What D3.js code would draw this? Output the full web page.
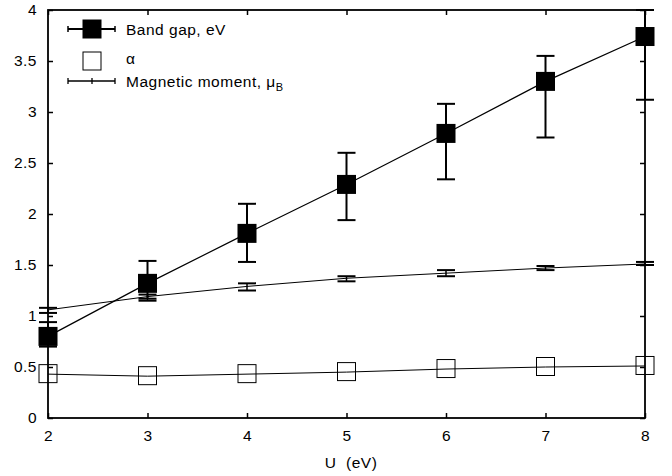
<!DOCTYPE html>
<html><head><meta charset="utf-8">
<script src="https://cdn.jsdelivr.net/npm/d3@7"></script>
<style>body{margin:0;background:#fff}svg{display:block}text{font-family:"Liberation Sans",Arial,sans-serif}</style>
</head><body><svg id="c" width="672" height="476"></svg>
<script>
const U = [2,3,4,5,6,7,8];
const bandGap = [0.80,1.32,1.81,2.29,2.79,3.30,3.74];
const bandGapLo = [0.70,1.17,1.53,1.94,2.34,2.75,3.12];
const bandGapHi = [0.94,1.54,2.10,2.60,3.08,3.55,4.00];
const alpha = [0.43,0.41,0.43,0.45,0.48,0.50,0.51];
const magMoment = [1.06,1.19,1.29,1.37,1.42,1.47,1.51];
const magLo = [1.03,1.15,1.25,1.34,1.39,1.45,1.50];
const magHi = [1.08,1.21,1.32,1.39,1.45,1.49,1.53];
const xTicks = [2,3,4,5,6,7,8];
const yTicks = [0,0.5,1,1.5,2,2.5,3,3.5,4];

const svg = d3.select("#c");
const L=48,R=645,T=10,B=418;
const x = d3.scaleLinear().domain([2,8]).range([L,R]);
const y = d3.scaleLinear().domain([0,4]).range([B,T]);
const fs = "15.5px", ls = "0.5px";

// axes
const gx = svg.append("g").attr("transform",`translate(0,${B})`)
  .call(d3.axisBottom(x).tickValues(xTicks).tickFormat(d3.format("d")).tickSizeInner(-5).tickSizeOuter(0).tickPadding(12));
const gxt = svg.append("g").attr("transform",`translate(0,${T})`)
  .call(d3.axisTop(x).tickValues(xTicks).tickFormat("").tickSizeInner(-5).tickSizeOuter(0));
const gy = svg.append("g").attr("transform",`translate(${L},0)`)
  .call(d3.axisLeft(y).tickValues(yTicks).tickFormat(d3.format("")).tickSizeInner(-5).tickSizeOuter(0).tickPadding(11));
const gyr = svg.append("g").attr("transform",`translate(${R},0)`)
  .call(d3.axisRight(y).tickValues(yTicks).tickFormat("").tickSizeInner(-5).tickSizeOuter(0));
[gx,gxt,gy,gyr].forEach(g=>{
  g.select(".domain").remove();
  g.selectAll("line").attr("stroke","#000").attr("stroke-width",1.5);
  g.selectAll("text").attr("font-size",fs).attr("letter-spacing",ls).attr("fill","#000").style("font-family",'"Liberation Sans",Arial,sans-serif');
});
svg.append("rect").attr("x",L).attr("y",T).attr("width",R-L).attr("height",B-T)
  .attr("fill","none").attr("stroke","#000").attr("stroke-width",1.8);

svg.append("text").attr("x",351).attr("y",468).attr("text-anchor","middle").attr("font-size",fs).attr("letter-spacing",ls)
  .style("white-space","pre").text("U  (eV)");

const line = d3.line().x((d,i)=>x(U[i])).y(d=>y(d));
// lines
svg.append("path").datum(alpha).attr("d",line).attr("fill","none").attr("stroke","#000").attr("stroke-width",1);
svg.append("path").datum(magMoment).attr("d",line).attr("fill","none").attr("stroke","#000").attr("stroke-width",1);
svg.append("path").datum(bandGap).attr("d",line).attr("fill","none").attr("stroke","#000").attr("stroke-width",1.2);

// mag error bars
const cap=9;
U.forEach((u,i)=>{
  const g=svg.append("g").attr("stroke","#000").attr("stroke-width",2);
  g.append("line").attr("x1",x(u)).attr("x2",x(u)).attr("y1",y(magLo[i])).attr("y2",y(magHi[i])).attr("stroke-width",1.5);
  [magLo[i],magHi[i]].forEach(v=>g.append("line").attr("x1",x(u)-cap).attr("x2",x(u)+cap).attr("y1",y(v)).attr("y2",y(v)));
});
// band gap error bars
U.forEach((u,i)=>{
  const g=svg.append("g").attr("stroke","#000").attr("stroke-width",2);
  g.append("line").attr("x1",x(u)).attr("x2",x(u)).attr("y1",y(bandGapLo[i])).attr("y2",y(bandGapHi[i]));
  [bandGapLo[i],bandGapHi[i]].forEach(v=>g.append("line").attr("x1",x(u)-cap).attr("x2",x(u)+cap).attr("y1",y(v)).attr("y2",y(v)));
});
// markers
const s=19;
svg.selectAll(".bg").data(bandGap).enter().append("rect")
  .attr("x",(d,i)=>x(U[i])-s/2).attr("y",d=>y(d)-s/2).attr("width",s).attr("height",s).attr("fill","#000");
svg.selectAll(".al").data(alpha).enter().append("rect")
  .attr("x",(d,i)=>x(U[i])-s/2+0.5).attr("y",d=>y(d)-s/2).attr("width",s-1).attr("height",s-1)
  .attr("fill","none").attr("stroke","#000").attr("stroke-width",1);

// legend
const lg=svg.append("g");
const lx1=68,lx2=115,lxm=92,tx=126;
// band gap
lg.append("line").attr("x1",lx1).attr("x2",lx2).attr("y1",29).attr("y2",29).attr("stroke","#000").attr("stroke-width",2);
[lx1,lx2].forEach(v=>lg.append("line").attr("x1",v).attr("x2",v).attr("y1",26).attr("y2",32).attr("stroke","#000").attr("stroke-width",1.5));
lg.append("rect").attr("x",lxm-s/2).attr("y",29-s/2).attr("width",s).attr("height",s).attr("fill","#000");
lg.append("text").attr("x",tx).attr("y",35).attr("font-size",fs).attr("letter-spacing",ls).text("Band gap, eV");
// alpha
lg.append("rect").attr("x",lxm-9).attr("y",52).attr("width",18).attr("height",18).attr("fill","none").attr("stroke","#000").attr("stroke-width",1);
lg.append("text").attr("x",tx).attr("y",64).attr("font-size",fs).text("α");
// magnetic moment
lg.append("line").attr("x1",lx1).attr("x2",lx2).attr("y1",81).attr("y2",81).attr("stroke","#000").attr("stroke-width",1.3);
[lx1,lxm,lx2].forEach(v=>lg.append("line").attr("x1",v).attr("x2",v).attr("y1",78).attr("y2",84).attr("stroke","#000").attr("stroke-width",1.3));
const mt=lg.append("text").attr("x",tx).attr("y",87).attr("font-size",fs).attr("letter-spacing",ls);
mt.append("tspan").text("Magnetic moment, μ");
mt.append("tspan").attr("font-size","11px").attr("dy",4).text("B");
</script></body></html>
